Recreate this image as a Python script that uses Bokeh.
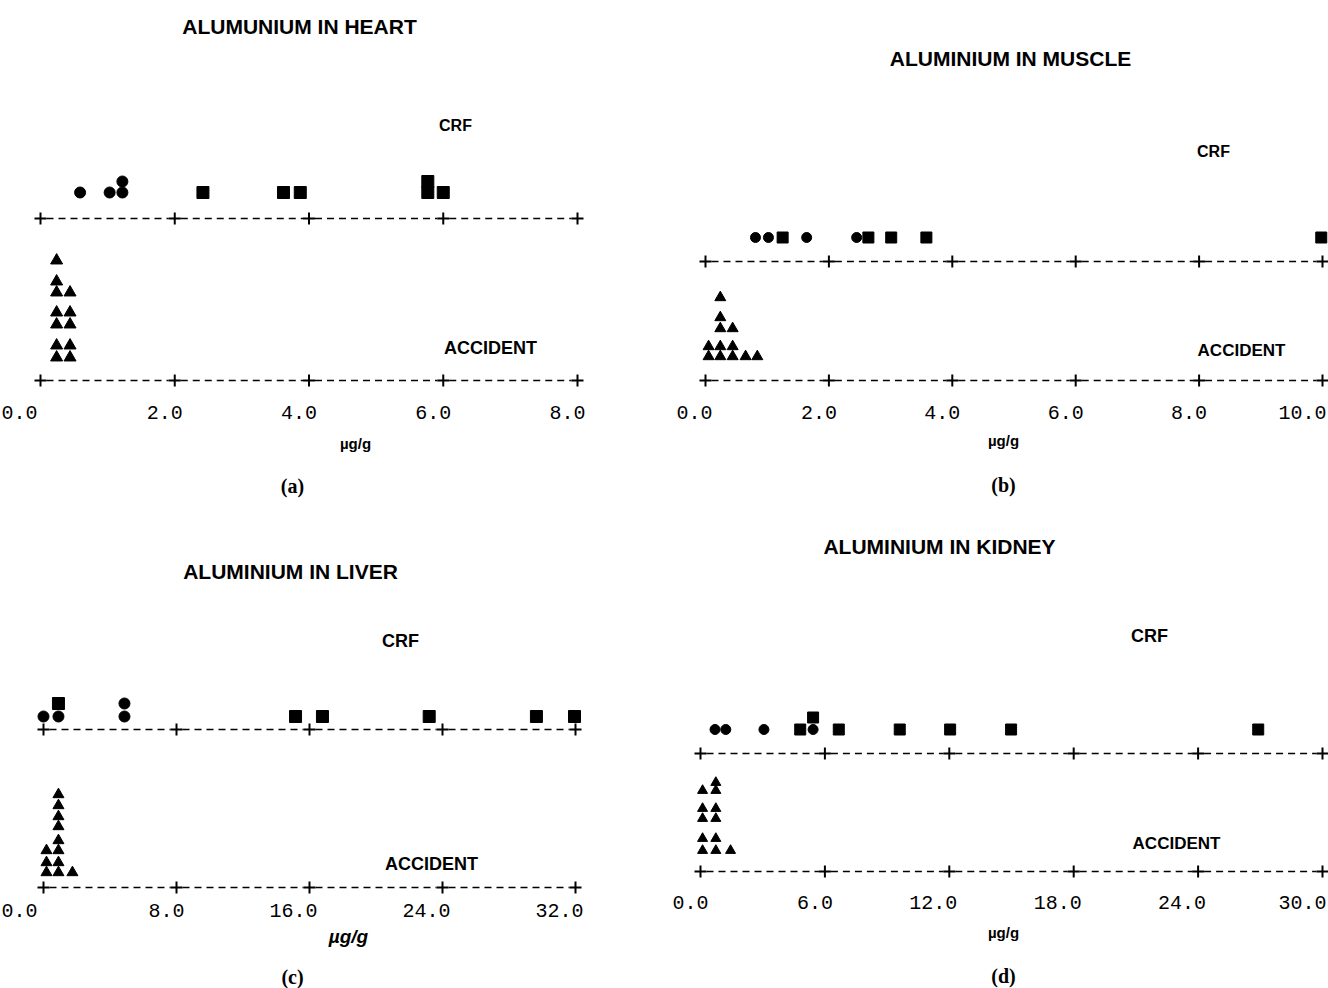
from bokeh.plotting import figure
from bokeh.models import Range1d, ColumnDataSource
from bokeh.layouts import column, row
from bokeh.core.properties import value
from bokeh.embed import file_html
from bokeh.resources import INLINE

# ---------------- data (µg/g) ----------------
# (a) heart
heart_title = "ALUMUNIUM IN HEART"
heart_crf_circle = [0.59, 1.03, 1.22, 1.22]
heart_crf_square = [2.42, 3.62, 3.87, 5.77, 5.77, 6.00]
heart_accident = [0.24, 0.24, 0.24, 0.24, 0.24, 0.24, 0.24,
                  0.44, 0.44, 0.44, 0.44, 0.44]
heart_ticks = [0.0, 2.0, 4.0, 6.0, 8.0]
heart_tick_labels = ["0.0", "2.0", "4.0", "6.0", "8.0"]

# (b) muscle
muscle_title = "ALUMINIUM IN MUSCLE"
muscle_crf_circle = [0.81, 1.02, 1.64, 2.45]
muscle_crf_square = [1.25, 2.64, 3.01, 3.58, 9.98]
muscle_accident = [0.05, 0.05, 0.24, 0.24, 0.24, 0.24, 0.24,
                   0.44, 0.44, 0.44, 0.65, 0.84]
muscle_ticks = [0.0, 2.0, 4.0, 6.0, 8.0, 10.0]
muscle_tick_labels = ["0.0", "2.0", "4.0", "6.0", "8.0", "10.0"]

# (c) liver
liver_title = "ALUMINIUM IN LIVER"
liver_crf_circle = [0.00, 0.90, 4.87, 4.87]
liver_crf_square = [0.90, 15.16, 16.78, 23.2, 29.65, 31.94]
liver_accident = [0.18, 0.18, 0.18,
                  0.90, 0.90, 0.90, 0.90, 0.90, 0.90, 0.90, 0.90,
                  1.74]
liver_ticks = [0.0, 8.0, 16.0, 24.0, 32.0]
liver_tick_labels = ["0.0", "8.0", "16.0", "24.0", "32.0"]

# (d) kidney
kidney_title = "ALUMINIUM IN KIDNEY"
kidney_crf_circle = [0.70, 1.22, 3.06, 5.43]
kidney_crf_square = [4.81, 5.43, 6.67, 9.61, 12.04, 14.98, 26.9]
kidney_accident = [0.10, 0.10, 0.10, 0.10, 0.10,
                   0.74, 0.74, 0.74, 0.74, 0.74, 0.74,
                   1.45]
kidney_ticks = [0.0, 6.0, 12.0, 18.0, 24.0, 30.0]
kidney_tick_labels = ["0.0", "6.0", "12.0", "18.0", "24.0", "30.0"]

# ---------------- layout / style ----------------
PW = 664
SANS = value("Liberation Sans")
MONO = value("Liberation Mono")
SERIF = value("Liberation Serif")


def stack_levels(vals):
    seen = {}
    out = []
    for v in vals:
        k = round(v, 4)
        out.append(seen.get(k, 0))
        seen[k] = seen.get(k, 0) + 1
    return out


def panel(cfg, title, crf_c, crf_s, acc, ticks, labels):
    left, top, ph = cfg["left"], cfg["top"], cfg["height"]
    x0, x1 = cfg["tick_px"]
    scale = (x1 - x0) / (ticks[-1] - ticks[0])

    def px(xref):
        return ticks[0] + (xref - x0) / scale

    p = figure(width=PW, height=ph, output_backend="svg", toolbar_location=None,
               x_range=Range1d(px(left), px(left + PW)),
               y_range=Range1d(top + ph, top),
               x_axis_type=None, y_axis_type=None, min_border=0,
               outline_line_color=None, background_fill_color="white",
               border_fill_color="white")
    p.grid.visible = False

    # dashed axes with "+" ticks
    gap = 6.0 / scale
    for ay in cfg["axes_y"]:
        xs = [[ticks[i] + gap, ticks[i + 1] - gap] for i in range(len(ticks) - 1)]
        ys = [[ay, ay] for _ in range(len(ticks) - 1)]
        p.multi_line(xs, ys, line_color="black", line_width=1.7, line_dash="7 5")
        p.scatter(ticks, [ay] * len(ticks), marker="cross", size=12,
                  line_color="black", line_width=2)

    # CRF points (circles then squares, stacked where equal)
    crf_vals = list(crf_c) + list(crf_s)
    lv = stack_levels(crf_vals)
    offs = cfg["crf_offsets"]
    ys = [cfg["crf_base"] - offs[k] for k in lv]
    n = len(crf_c)
    ms = cfg["msize"]
    p.scatter(crf_vals[:n], ys[:n], marker="circle", size=ms - 1,
              fill_color="black", line_color="black")
    p.scatter(crf_vals[n:], ys[n:], marker="square", size=ms,
              fill_color="black", line_color="black")

    # accident points (triangles, stacked)
    lv = stack_levels(acc)
    offs = cfg["acc_offsets"]
    ys = [cfg["acc_base"] - offs[k] for k in lv]
    p.scatter(acc, ys, marker="triangle", size=cfg["tsize"],
              fill_color="black", line_color="black")

    # tick labels
    ly = cfg["label_y"]
    xo = [cfg["first_off"]] + [8] * (len(ticks) - 2) + [cfg["last_off"]]
    src = ColumnDataSource(dict(x=ticks, y=[ly] * len(ticks), t=labels, xo=xo))
    p.text("x", "y", text="t", source=src, x_offset="xo", text_align="right",
           text_baseline="middle", text_font=MONO, text_font_size="20px",
           text_color="black")

    def label(xref, yref, txt, font, size, style="bold"):
        p.text([px(xref)], [yref], text=[txt], text_font=font,
               text_font_size=size, text_font_style=style,
               text_align="center", text_baseline="middle", text_color="black")

    label(cfg["title"][0], cfg["title"][1], title, SANS, "21px")
    label(cfg["crf"][0], cfg["crf"][1], "CRF", SANS, cfg.get("crf_size", "16px"))
    label(cfg["acc"][0], cfg["acc"][1], "ACCIDENT", SANS, cfg.get("acc_size", "18px"))
    label(cfg["unit"][0], cfg["unit"][1], "µg/g", SANS, cfg.get("unit_size", "15px"),
          cfg.get("unit_style", "bold"))
    label(cfg["tag"][0], cfg["tag"][1], cfg["tag_text"], SERIF, "20px")
    return p


TOP_H, BOT_H = 502, 486

cfg_a = dict(left=0, top=0, height=TOP_H, tick_px=(40, 577), axes_y=(218, 380),
             crf_base=192, crf_offsets=[0, 11], acc_base=357,
             acc_offsets=[0, 12, 33, 45, 65, 76, 97], msize=12, tsize=12,
             label_y=412, first_off=-3, last_off=8,
             title=(299, 26), crf=(455, 125), acc=(490, 347), acc_size="18px",
             unit=(355, 443), tag=(292, 485), tag_text="(a)")
cfg_b = dict(left=664, top=0, height=TOP_H, tick_px=(705, 1322), axes_y=(261, 380),
             crf_base=237, crf_offsets=[0, 11], acc_base=356,
             acc_offsets=[0, 10, 28, 39, 59], msize=11, tsize=11,
             label_y=412, first_off=7, last_off=4,
             title=(1010, 58), crf=(1213, 151), crf_size="16px",
             acc=(1241, 350), acc_size="17px",
             unit=(1003, 440), tag=(1003, 484), tag_text="(b)")
cfg_c = dict(left=0, top=TOP_H, height=BOT_H, tick_px=(43, 575), axes_y=(729, 887),
             crf_base=716, crf_offsets=[0, 13], acc_base=872,
             acc_offsets=[0, 10, 22, 32, 46, 56, 67, 78], msize=12, tsize=11,
             label_y=910, first_off=-6, last_off=8,
             title=(290, 571), crf=(400, 640), crf_size="18px",
             acc=(431, 863), acc_size="18px",
             unit=(348, 936), unit_size="19px", unit_style="bold italic",
             tag=(292, 976), tag_text="(c)")
cfg_d = dict(left=664, top=TOP_H, height=BOT_H, tick_px=(700, 1322), axes_y=(753, 871),
             crf_base=729, crf_offsets=[0, 12], acc_base=850,
             acc_offsets=[0, 12, 32, 42, 60, 68], msize=11, tsize=10,
             label_y=902, first_off=8, last_off=4,
             title=(939, 546), crf=(1149, 635), crf_size="18px",
             acc=(1176, 843), acc_size="17px",
             unit=(1003, 932), tag=(1003, 975), tag_text="(d)")

pa = panel(cfg_a, heart_title, heart_crf_circle, heart_crf_square, heart_accident,
           heart_ticks, heart_tick_labels)
pb = panel(cfg_b, muscle_title, muscle_crf_circle, muscle_crf_square, muscle_accident,
           muscle_ticks, muscle_tick_labels)
pc = panel(cfg_c, liver_title, liver_crf_circle, liver_crf_square, liver_accident,
           liver_ticks, liver_tick_labels)
pd = panel(cfg_d, kidney_title, kidney_crf_circle, kidney_crf_square, kidney_accident,
           kidney_ticks, kidney_tick_labels)

layout = column(row(pa, pb), row(pc, pd))
open("out.html", "w").write(file_html(layout, INLINE))
